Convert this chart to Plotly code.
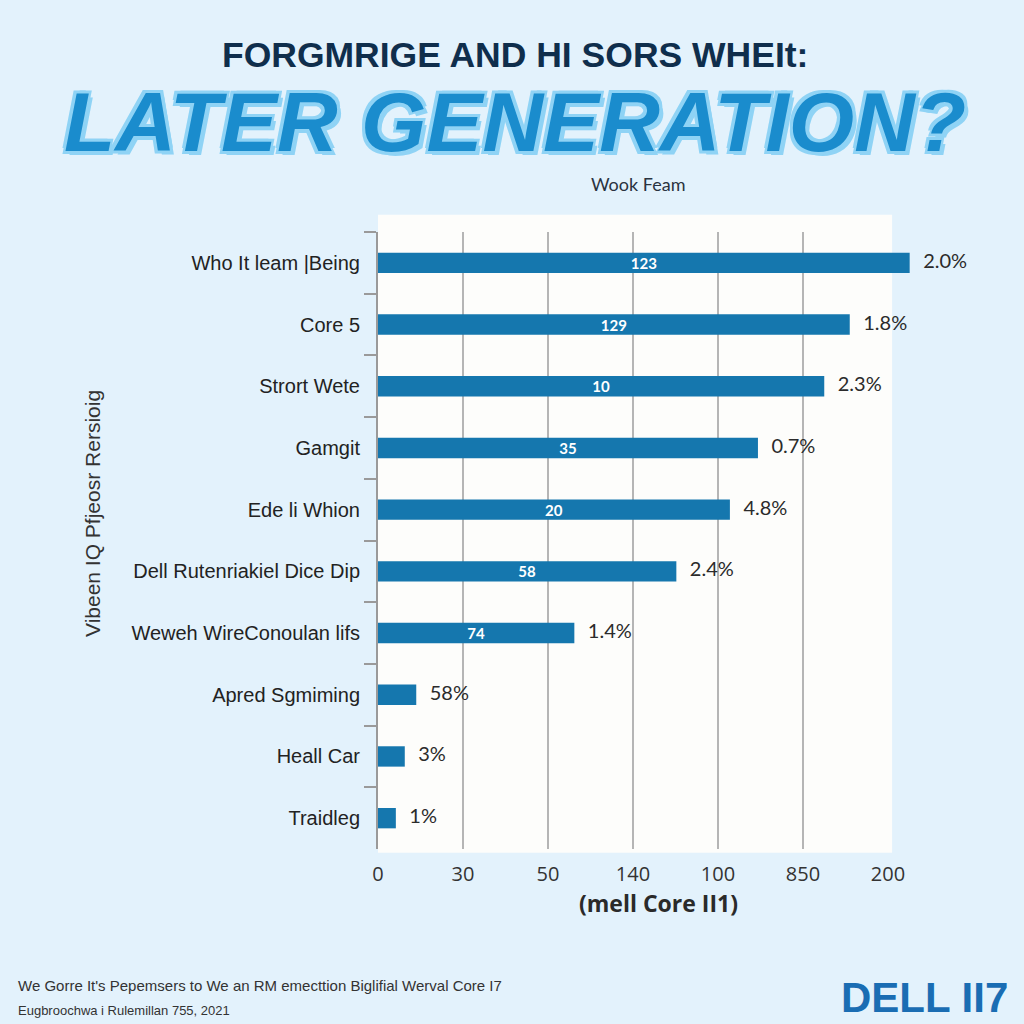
import plotly.graph_objects as go

# ---------------- data ----------------
categories = [
    "Who It leam |Being",
    "Core 5",
    "Strort Wete",
    "Gamgit",
    "Ede li Whion",
    "Dell Rutenriakiel Dice Dip",
    "Weweh WireConoulan lifs",
    "Apred Sgmiming",
    "Heall Car",
    "Traidleg",
]
values = [208.5, 185.0, 175.0, 149.0, 138.0, 117.0, 77.0, 15.0, 10.5, 7.0]
inner_labels = ["123", "129", "10", "35", "20", "58", "74", "", "", ""]
outer_labels = ["2.0%", "1.8%", "2.3%", "0.7%", "4.8%", "2.4%", "1.4%", "58%", "3%", "1%"]

tick_values = [0, 33.33, 66.67, 100, 133.33, 166.67, 200]
tick_labels = ["0", "30", "50", "140", "100", "850", "200"]
grid_values = tick_values[1:-1]
axis_max = 220

title_top = "FORGMRIGE AND HI SORS WHEIt:"
title_main = "LATER GENERATION?"
top_label = "Wook Feam"
x_title = "(mell Core II1)"
y_title = "Vibeen IQ Pfjeosr Rersioig"
footer_1 = "We Gorre It's Pepemsers to We an RM emecttion Biglifial Werval Core I7"
footer_2 = "Eugbroochwa i Rulemillan 755, 2021"
logo = "DELL II7"

BG = "#e3f2fc"
PLOT_BG = "#fdfdfb"
BAR = "#1577ae"
GRID = "#b5b5b5"
AXIS = "#9a9a9a"

fig = go.Figure()

fig.add_trace(go.Bar(
    x=values, y=categories, orientation="h",
    width=0.33,
    marker=dict(color=BAR, line=dict(width=0)),
    text=inner_labels, textposition="inside", insidetextanchor="middle",
    textangle=0, constraintext="none",
    insidetextfont=dict(family="Lato", size=15, color="white", weight="bold"),
    hoverinfo="skip", showlegend=False,
))

fig.add_trace(go.Scatter(
    x=values, y=categories, mode="markers+text",
    xaxis="x2",
    marker=dict(size=20, opacity=0),
    text=outer_labels, textposition="middle right",
    textfont=dict(family="Lato", size=20, color="#2b2b2b"),
    cliponaxis=False, hoverinfo="skip", showlegend=False,
))

n = len(categories)

fig.update_layout(
    width=1024, height=1024,
    margin=dict(l=378, r=85, t=232, b=175),
    paper_bgcolor=BG, plot_bgcolor="rgba(0,0,0,0)",
    xaxis=dict(
        range=[0, axis_max], tickvals=tick_values, ticktext=tick_labels,
        showgrid=False, zeroline=False, showline=False,
        ticks="outside", ticklen=7, tickcolor="rgba(0,0,0,0)",
        tickfont=dict(family="Open Sans", size=20, color="#333333"),
        title=dict(text=x_title, standoff=6,
                   font=dict(family="Open Sans", size=23, color="#2a2a2a", weight="bold")),
    ),
    xaxis2=dict(
        overlaying="x", matches="x", tickvals=grid_values,
        showticklabels=False, showgrid=True, gridcolor=GRID, gridwidth=1.5,
        zeroline=False, showline=False, layer="below traces",
    ),
    yaxis=dict(
        categoryorder="array", categoryarray=categories,
        range=[n - 0.5, -0.5],
        showline=True, linecolor=AXIS, linewidth=2,
        ticks="outside", tickson="boundaries", ticklen=12, tickcolor=AXIS, tickwidth=1.5,
        ticklabelstandoff=12,
        showgrid=False, zeroline=False,
        tickfont=dict(family="Liberation Sans", size=20, color="#222222"),
    ),
    shapes=[dict(
        type="rect", xref="x", yref="paper", x0=0, x1=tick_values[-1] * 1.008,
        y0=-0.006, y1=1.028, fillcolor=PLOT_BG, line=dict(width=0), layer="below",
    )],
)

plot_h = 1024 - 232 - 175
plot_w = 1024 - 378 - 85


def px(xp):
    return (xp - 378) / plot_w


def py(yp):
    return (1024 - 175 - yp) / plot_h


fig.layout.annotations = [
    dict(text=title_top, x=px(515), y=py(55), xref="paper", yref="paper",
         showarrow=False, xanchor="center", yanchor="middle",
         font=dict(family="Liberation Sans", size=35.5, color="#0f2e4c", weight="bold")),
    dict(text=title_main, x=px(515), y=py(122), xref="paper", yref="paper",
         showarrow=False, xanchor="center", yanchor="middle",
         font=dict(family="Liberation Sans", size=84, color="#1a8ccd", weight="bold",
                   style="italic",
                   shadow="-3px -3px 0 #8fd3f5, 3px -3px 0 #8fd3f5, -3px 3px 0 #8fd3f5, 4px 4px 0 #8fd3f5")),
    dict(text=top_label, x=px(638), y=py(184), xref="paper", yref="paper",
         showarrow=False, xanchor="center", yanchor="middle",
         font=dict(family="Lato", size=18, color="#2a3340")),
    dict(text=y_title, x=px(92), y=py(514), xref="paper", yref="paper",
         showarrow=False, xanchor="center", yanchor="middle", textangle=-90,
         font=dict(family="Liberation Sans", size=21, color="#333333")),
    dict(text=footer_1, x=px(16), y=py(985), xref="paper", yref="paper",
         showarrow=False, xanchor="left", yanchor="middle",
         font=dict(family="Liberation Sans", size=15, color="#333333")),
    dict(text=footer_2, x=px(16), y=py(1010), xref="paper", yref="paper",
         showarrow=False, xanchor="left", yanchor="middle",
         font=dict(family="Liberation Sans", size=13, color="#333333")),
    dict(text=logo, x=px(1010), y=py(997), xref="paper", yref="paper",
         showarrow=False, xanchor="right", yanchor="middle",
         font=dict(family="Liberation Sans", size=42, color="#1a6db3", weight="bold")),
]

fig.write_html("out.html")
